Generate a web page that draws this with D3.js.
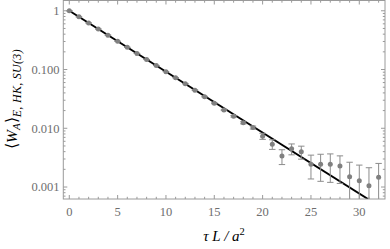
<!DOCTYPE html>
<html><head><meta charset="utf-8">
<script src="https://cdn.jsdelivr.net/npm/d3@7"></script>
<style>body{margin:0;background:#fff}svg{display:block}</style></head>
<body>
<svg id="c" width="390" height="249"></svg>
<script>
// ---- data ----
const tau = [0,1,2,3,4,5,6,7,8,9,10,11,12,13,14,15,16,17,18,19,20,21,22,23,24,25,26,27,28,29,30,31,32];
const wilson = [1.0,0.788,0.621,0.489,0.385,0.303,0.239,0.188,0.148,0.117,0.0921,0.0725,0.0575,0.0446,0.0345,0.0266,0.0205,0.0160,0.0124,0.0103,
  0.00734,0.00537,0.00336,0.00447,0.00397,0.00243,0.00243,0.00243,0.00227,0.00150,0.00128,0.00105,0.00146];
const errors = [0.0005,0.0005,0.0005,0.0005,0.0005,0.0005,0.0005,0.0005,0.0005,0.0005,0.0005,0.0005,0.0005,0.0005,0.0005,0.0005,0.0005,0.0005,0.0005,0.0006,
  0.00087,0.00100,0.00095,0.00094,0.00099,0.00106,0.00118,0.00123,0.00112,0.00114,0.00108,0.00108,0.00106];
const fitTau = [0, 33];
const fitW = [1, 0.000378];
const xTicks = [0,5,10,15,20,25,30];
const yTicks = [1,0.1,0.01,0.001];
const yTickLabels = ["1","0.100","0.010","0.001"];

// ---- layout ----
const L = 63.3, R = 385, T = 0.5, B = 199;
const svg = d3.select("#c");
const x = d3.scaleLinear().domain([-0.62, 32.66]).range([L, R]);
const y = d3.scaleLog().domain([Math.pow(10,-3.204), Math.pow(10,0.175)]).range([B, T]);

const frameCol = "#9a9a9a", labCol = "#6e6e6e";
const font = "'Liberation Serif', 'Times New Roman', serif";

svg.append("clipPath").attr("id","clip").append("rect")
  .attr("x",L).attr("y",T).attr("width",R-L).attr("height",B-T);
const plot = svg.append("g").attr("clip-path","url(#clip)");

// fit line
const fit = fitTau.map((t,i)=>[t,fitW[i]]);
plot.append("path").datum(fit)
  .attr("d", d3.line().x(d=>x(d[0])).y(d=>y(d[1])))
  .attr("stroke","#000").attr("stroke-width",1.9).attr("fill","none");

// error bars
const pts = tau.map((t,i)=>({t, w:wilson[i], e:errors[i]}));
const eg = plot.append("g").attr("stroke","#8c8c8c").attr("stroke-width",1);
pts.forEach(p=>{
  const lo = Math.max(p.w - p.e, 1e-5), hi = p.w + p.e;
  const cx = x(p.t);
  eg.append("line").attr("x1",cx).attr("x2",cx).attr("y1",y(lo)).attr("y2",y(hi));
  eg.append("line").attr("x1",cx-3.2).attr("x2",cx+3.2).attr("y1",y(lo)).attr("y2",y(lo));
  eg.append("line").attr("x1",cx-3.2).attr("x2",cx+3.2).attr("y1",y(hi)).attr("y2",y(hi));
});
plot.append("g").selectAll("circle").data(pts).join("circle")
  .attr("cx",d=>x(d.t)).attr("cy",d=>y(d.w)).attr("r",2.5).attr("fill","#808080");

// frame
svg.append("rect").attr("x",L).attr("y",T).attr("width",R-L).attr("height",B-T)
  .attr("fill","none").attr("stroke",frameCol).attr("stroke-width",1);

const tg = svg.append("g").attr("stroke",frameCol).attr("stroke-width",1);
for (let t=0; t<=32; t++){
  const major = t%5===0, len = major?4:2.2, px = x(t);
  tg.append("line").attr("x1",px).attr("x2",px).attr("y1",B).attr("y2",B-len);
  tg.append("line").attr("x1",px).attr("x2",px).attr("y1",T).attr("y2",T+len);
}
const [ymin,ymax] = y.domain();
for (let e=-4; e<=1; e++){
  for (let k=1;k<=9;k++){
    const v = k*Math.pow(10,e);
    if (v<ymin || v>ymax) continue;
    const len = k===1?4:2.2, py = y(v);
    tg.append("line").attr("x1",L).attr("x2",L+len).attr("y1",py).attr("y2",py);
    tg.append("line").attr("x1",R).attr("x2",R-len).attr("y1",py).attr("y2",py);
  }
}

// tick labels
svg.append("g").selectAll("text").data(xTicks).join("text")
  .attr("x",d=>x(d)).attr("y",215.5).attr("text-anchor","middle")
  .attr("font-family",font).attr("font-size",12.5).attr("fill",labCol).text(d=>d);
svg.append("g").selectAll("text").data(yTicks).join("text")
  .attr("x",59.5).attr("y",d=>y(d)+4.3).attr("text-anchor","end")
  .attr("font-family",font).attr("font-size",12.5).attr("fill",labCol).text((d,i)=>yTickLabels[i]);

// axis labels
const xl = svg.append("text").attr("x",224).attr("y",240.5).attr("text-anchor","middle")
  .attr("font-family",font).attr("font-size",15).attr("fill","#000").attr("font-style","italic");
xl.append("tspan").text("τ L / a");
xl.append("tspan").attr("dy",-6).attr("font-size",10.5).attr("font-style","normal").text("2");

const yl = svg.append("text").attr("transform","translate(16.5,99) rotate(-90)")
  .attr("text-anchor","middle").attr("font-family",font).attr("font-size",15.5).attr("fill","#000");
yl.append("tspan").text("⟨");
yl.append("tspan").attr("font-style","italic").text("W");
yl.append("tspan").attr("font-style","italic").attr("font-size",11).attr("dy",3).text("A");
yl.append("tspan").attr("dy",-3).text("⟩");
yl.append("tspan").attr("font-style","italic").attr("font-size",12).attr("dy",4).attr("letter-spacing",0.3).text("E, HK, SU(3)");
</script>
</body></html>
